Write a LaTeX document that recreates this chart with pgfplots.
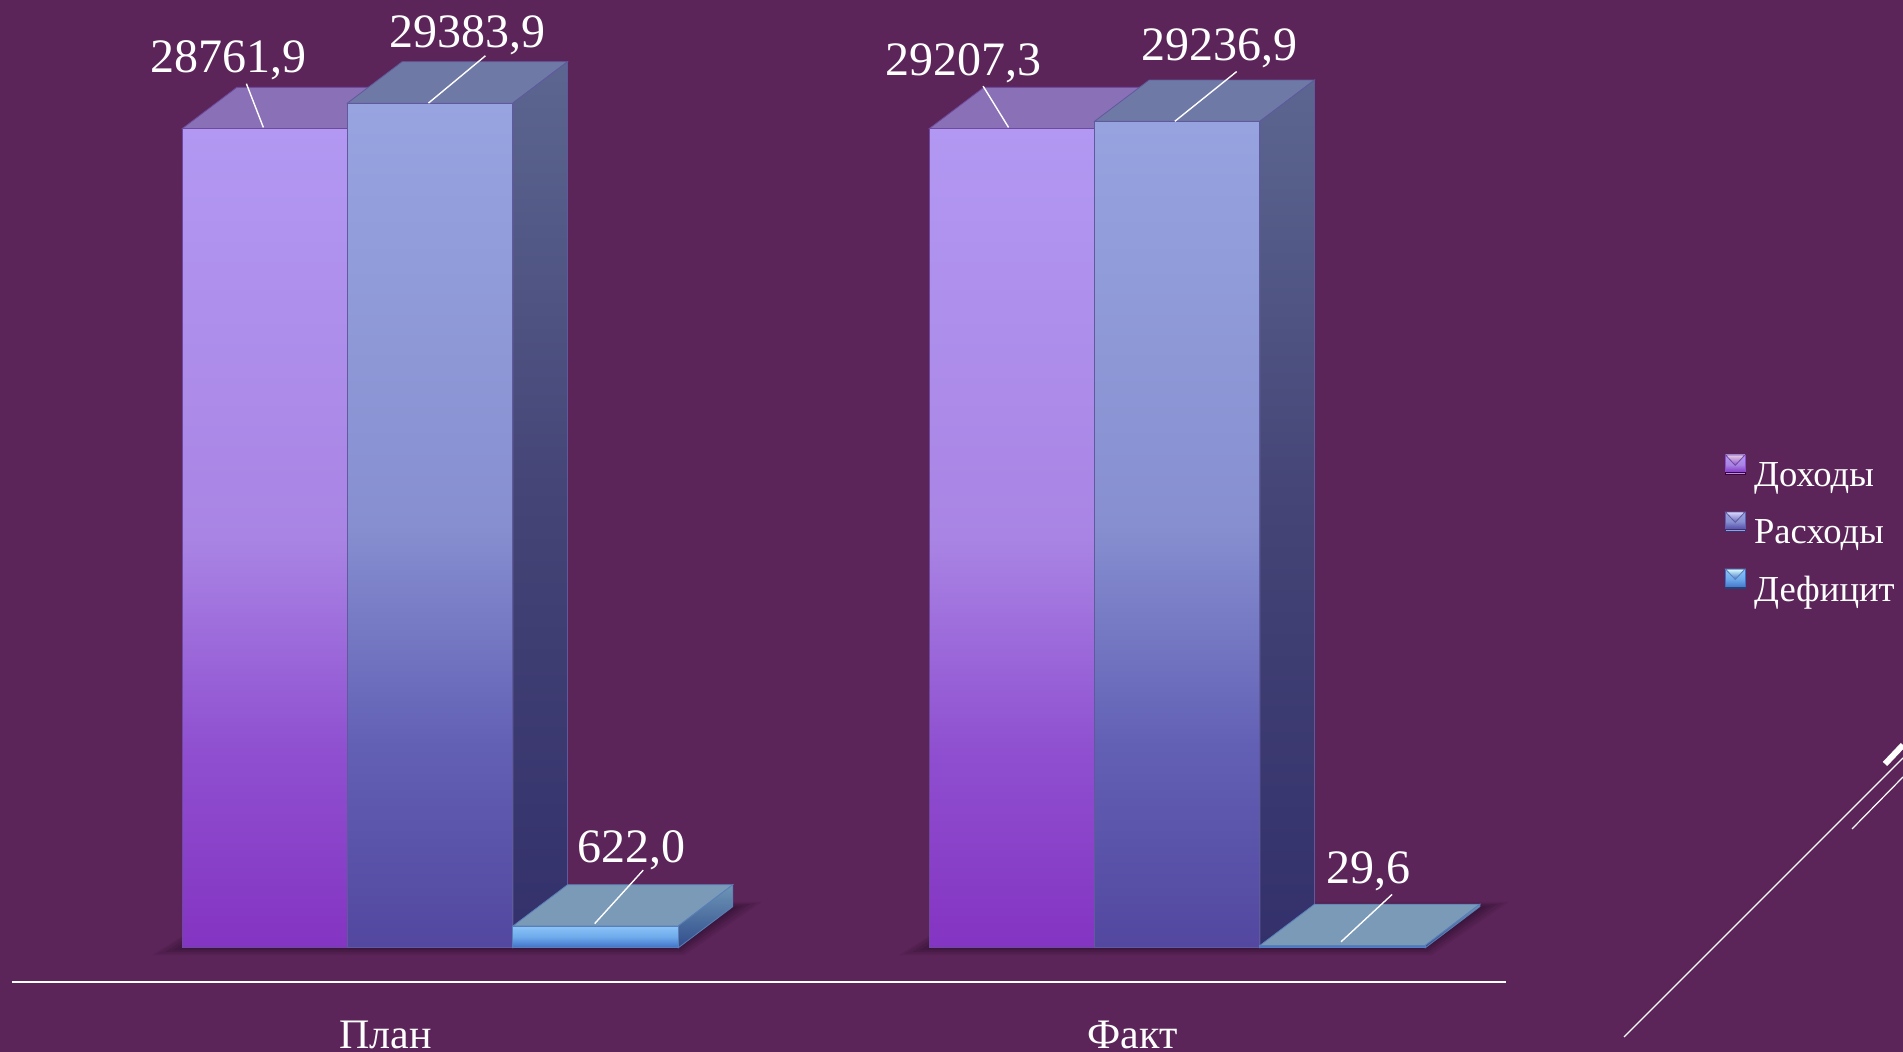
\documentclass[border=0pt]{standalone}
\usepackage{fontspec}
\setmainfont{Liberation Serif}
\usepackage{pgfplots}
\pgfplotsset{compat=1.18}

\definecolor{bg}{HTML}{5C2559}
\definecolor{shadow}{HTML}{2E0F30}
\definecolor{topA}{HTML}{8A70B6}
\definecolor{topB}{HTML}{6F79A6}
\definecolor{topC}{HTML}{7A9AB8}
\definecolor{edgeA}{HTML}{6E4A9E}
\definecolor{edgeB}{HTML}{5F5A9E}
\definecolor{edgeC}{HTML}{5A7FB8}
\definecolor{A0}{RGB}{132,52,194}
\definecolor{A1}{RGB}{143,79,208}
\definecolor{A2}{RGB}{169,132,228}
\definecolor{A3}{RGB}{178,152,242}
\definecolor{B0}{RGB}{83,71,160}
\definecolor{B1}{RGB}{98,96,181}
\definecolor{B2}{RGB}{135,143,208}
\definecolor{B3}{RGB}{151,164,224}
\definecolor{S0}{RGB}{51,48,107}
\definecolor{S1}{RGB}{68,68,118}
\definecolor{S2}{RGB}{92,102,144}
\definecolor{C0}{RGB}{62,110,198}
\definecolor{C1}{RGB}{110,170,235}
\definecolor{C2}{RGB}{140,196,248}
\definecolor{D0}{RGB}{48,76,140}
\definecolor{D1}{RGB}{110,150,182}

% vertical gradients, the path fills 25bp..75bp of the shading
\pgfdeclareverticalshading{barA}{100bp}{color(0bp)=(A0); color(25bp)=(A0); color(37bp)=(A1); color(50bp)=(A2); color(75bp)=(A3); color(100bp)=(A3)}
\pgfdeclareverticalshading{barB}{100bp}{color(0bp)=(B0); color(25bp)=(B0); color(37bp)=(B1); color(50bp)=(B2); color(75bp)=(B3); color(100bp)=(B3)}
\pgfdeclareverticalshading{sideB}{100bp}{color(0bp)=(S0); color(25bp)=(S0); color(50bp)=(S1); color(75bp)=(S2); color(100bp)=(S2)}
\pgfdeclareverticalshading{barC}{100bp}{color(0bp)=(C0); color(25bp)=(C0); color(50bp)=(C1); color(75bp)=(C2); color(100bp)=(C2)}
\pgfdeclareverticalshading{sideC}{100bp}{color(0bp)=(D0); color(25bp)=(D0); color(75bp)=(D1); color(100bp)=(D1)}

\pgfplotsset{
  legkey/.style n args={3}{legend image code/.code={
    \fill[#1] (0pt,1pt) rectangle (9.7pt,10.7pt);
    \shade[top color=#2,bottom color=#1] (0pt,10.7pt)--(9.7pt,10.7pt)--(4.85pt,5.5pt)--cycle;
    \fill[#3] (0pt,1pt) rectangle (9.7pt,1.8pt);
  }},
  face/.style={forget plot,line width=0.4pt},
  shad/.style={forget plot,fill=shadow,draw=none,opacity=#1},
}

\begin{document}
\begin{tikzpicture}
\useasboundingbox (0,0) rectangle (951.5pt,526pt);
\fill[bg] (0,0) rectangle (951.5pt,526pt);

\begin{axis}[
  at={(6.07pt,35.1pt)},
  anchor=south west,
  scale only axis,
  width=747pt,
  height=490.9pt,
  xmin=-0.5, xmax=1.5,
  ymin=-1180, ymax=32967,
  clip=false,
  axis x line*=bottom,
  hide y axis,
  x axis line style={white,line width=1pt,-},
  xtick={0,1},
  xticklabels={План,Факт},
  major tick length=0pt,
  xticklabel style={text=white,font=\fontsize{21}{24}\selectfont,inner sep=0pt,yshift=-19.5pt},
  legend style={draw=none,fill=none,text=white,
    font=\fontsize{18.3}{20}\selectfont,
    at={(1.1423,0.4585)},anchor=west,row sep=8.9pt,
    /tikz/every odd column/.append style={column sep=2.4pt}},
  legend cell align=left,
]

% floor shadows, plan then fact
\addplot[shad=0.12] coordinates {(-0.3132,-260)(0.4000,-260)(0.5040,1600)(-0.2000,1600)} --cycle;
\addplot[shad=0.15] coordinates {(-0.3050,-200)(0.3980,-200)(0.4970,1560)(-0.2000,1560)} --cycle;
\addplot[shad=0.18] coordinates {(-0.2950,-140)(0.3960,-140)(0.4880,1520)(-0.2000,1520)} --cycle;
\addplot[shad=0.20] coordinates {(-0.2850,-90)(0.3940,-90)(0.4800,1480)(-0.2000,1480)} --cycle;
\addplot[shad=0.25] coordinates {(-0.2750,-45)(0.3920,-45)(0.4720,1440)(-0.2000,1440)} --cycle;
\addplot[shad=0.12] coordinates {(0.6868,-260)(1.4000,-260)(1.5040,1600)(0.8000,1600)} --cycle;
\addplot[shad=0.15] coordinates {(0.6950,-200)(1.3980,-200)(1.4970,1560)(0.8000,1560)} --cycle;
\addplot[shad=0.18] coordinates {(0.7050,-140)(1.3960,-140)(1.4880,1520)(0.8000,1520)} --cycle;
\addplot[shad=0.20] coordinates {(0.7150,-90)(1.3940,-90)(1.4800,1480)(0.8000,1480)} --cycle;
\addplot[shad=0.25] coordinates {(0.7250,-45)(1.3920,-45)(1.4720,1440)(0.8000,1440)} --cycle;

% bar heights: they do not follow the printed labels exactly
% series A
\addplot[face,fill=topA,draw=edgeA] coordinates {(-0.2723,28493)(-0.1992,29928)(0.0221,29928)(-0.0510,28493)} --cycle;
\addplot[face,fill=topA,draw=edgeA] coordinates {(0.7277,28493)(0.8008,29928)(1.0221,29928)(0.9490,28493)} --cycle;
\addplot[ybar,bar width=0.2213,bar shift=-0.1617,shading=barA,draw=edgeA,line width=0.4pt,
  legkey={A1}{white!80!violet}{violet!50!black}]
  coordinates {(0,28493)(1,28493)};
\addlegendentry{Доходы}

% series B
\addplot[face,fill=topB,draw=edgeB] coordinates {(-0.0510,29384)(0.0221,30819)(0.2435,30819)(0.1704,29384)} --cycle;
\addplot[face,fill=topB,draw=edgeB] coordinates {(0.9490,28747)(1.0221,30182)(1.2435,30182)(1.1704,28747)} --cycle;
\addplot[face,shading=sideB,draw=edgeB] coordinates {(0.1704,0)(0.2435,1435)(0.2435,30819)(0.1704,29384)} --cycle;
\addplot[face,shading=sideB,draw=edgeB] coordinates {(1.1704,0)(1.2435,1435)(1.2435,30182)(1.1704,28747)} --cycle;
\addplot[ybar,bar width=0.2213,bar shift=0.0597,shading=barB,draw=edgeB,line width=0.4pt,
  legkey={B1}{white!85!blue}{B0!70!black}]
  coordinates {(0,29384)(1,28747)};
\addlegendentry{Расходы}

% series C
\addplot[face,fill=topC,draw=edgeC] coordinates {(0.1704,760)(0.2435,2195)(0.4648,2195)(0.3917,760)} --cycle;
\addplot[face,fill=topC,draw=edgeC] coordinates {(1.1704,84)(1.2435,1519)(1.4648,1519)(1.3917,84)} --cycle;
\addplot[face,shading=sideC,draw=edgeC] coordinates {(0.3917,0)(0.4648,1435)(0.4648,2195)(0.3917,760)} --cycle;
\addplot[face,shading=sideC,draw=edgeC] coordinates {(1.3917,0)(1.4648,1435)(1.4648,1519)(1.3917,84)} --cycle;
\addplot[ybar,bar width=0.2213,bar shift=0.2810,shading=barC,draw=edgeC,line width=0.4pt,
  legkey={C0}{white!85!cyan}{C0!60!black}]
  coordinates {(0,760)(1,84)};
\addlegendentry{Дефицит}

% leader lines
\addplot[forget plot,white,line width=0.7pt] coordinates {(-0.1864,30055)(-0.1637,28535)};
\addplot[forget plot,white,line width=0.7pt] coordinates {(0.1336,31026)(0.0573,29380)};
\addplot[forget plot,white,line width=0.7pt] coordinates {(0.3448,2702)(0.2799,844)};
\addplot[forget plot,white,line width=0.7pt] coordinates {(0.7998,29971)(0.8339,28535)};
\addplot[forget plot,white,line width=0.7pt] coordinates {(1.1393,30477)(1.0565,28747)};
\addplot[forget plot,white,line width=0.7pt] coordinates {(1.3473,1857)(1.2790,211)};

% data labels, placed where the picture has them
\addplot[forget plot,only marks,mark=none,
  nodes near coords,point meta=explicit symbolic,
  every node near coord/.append style={anchor=center,text=white,inner sep=0pt,
    font=\fontsize{24}{26}\selectfont}]
  table[meta=label] {
  x y label
  -0.2108 30856 28761,9
  0.1093 31743 29383,9
  0.3286 3390 622,0
  0.7736 30772 29207,3
  1.1165 31278 29236,9
  1.3163 2670 29,6
  };
\end{axis}

% slide theme decoration, bottom right
\draw[white,line width=0.7pt] (812pt,7.5pt) -- (951.5pt,147pt);
\draw[white,line width=0.6pt] (926pt,111.5pt) -- (951.5pt,137.5pt);
\draw[white,line width=3pt] (942.5pt,144pt) -- (951.5pt,153.5pt);
\end{tikzpicture}
\end{document}
